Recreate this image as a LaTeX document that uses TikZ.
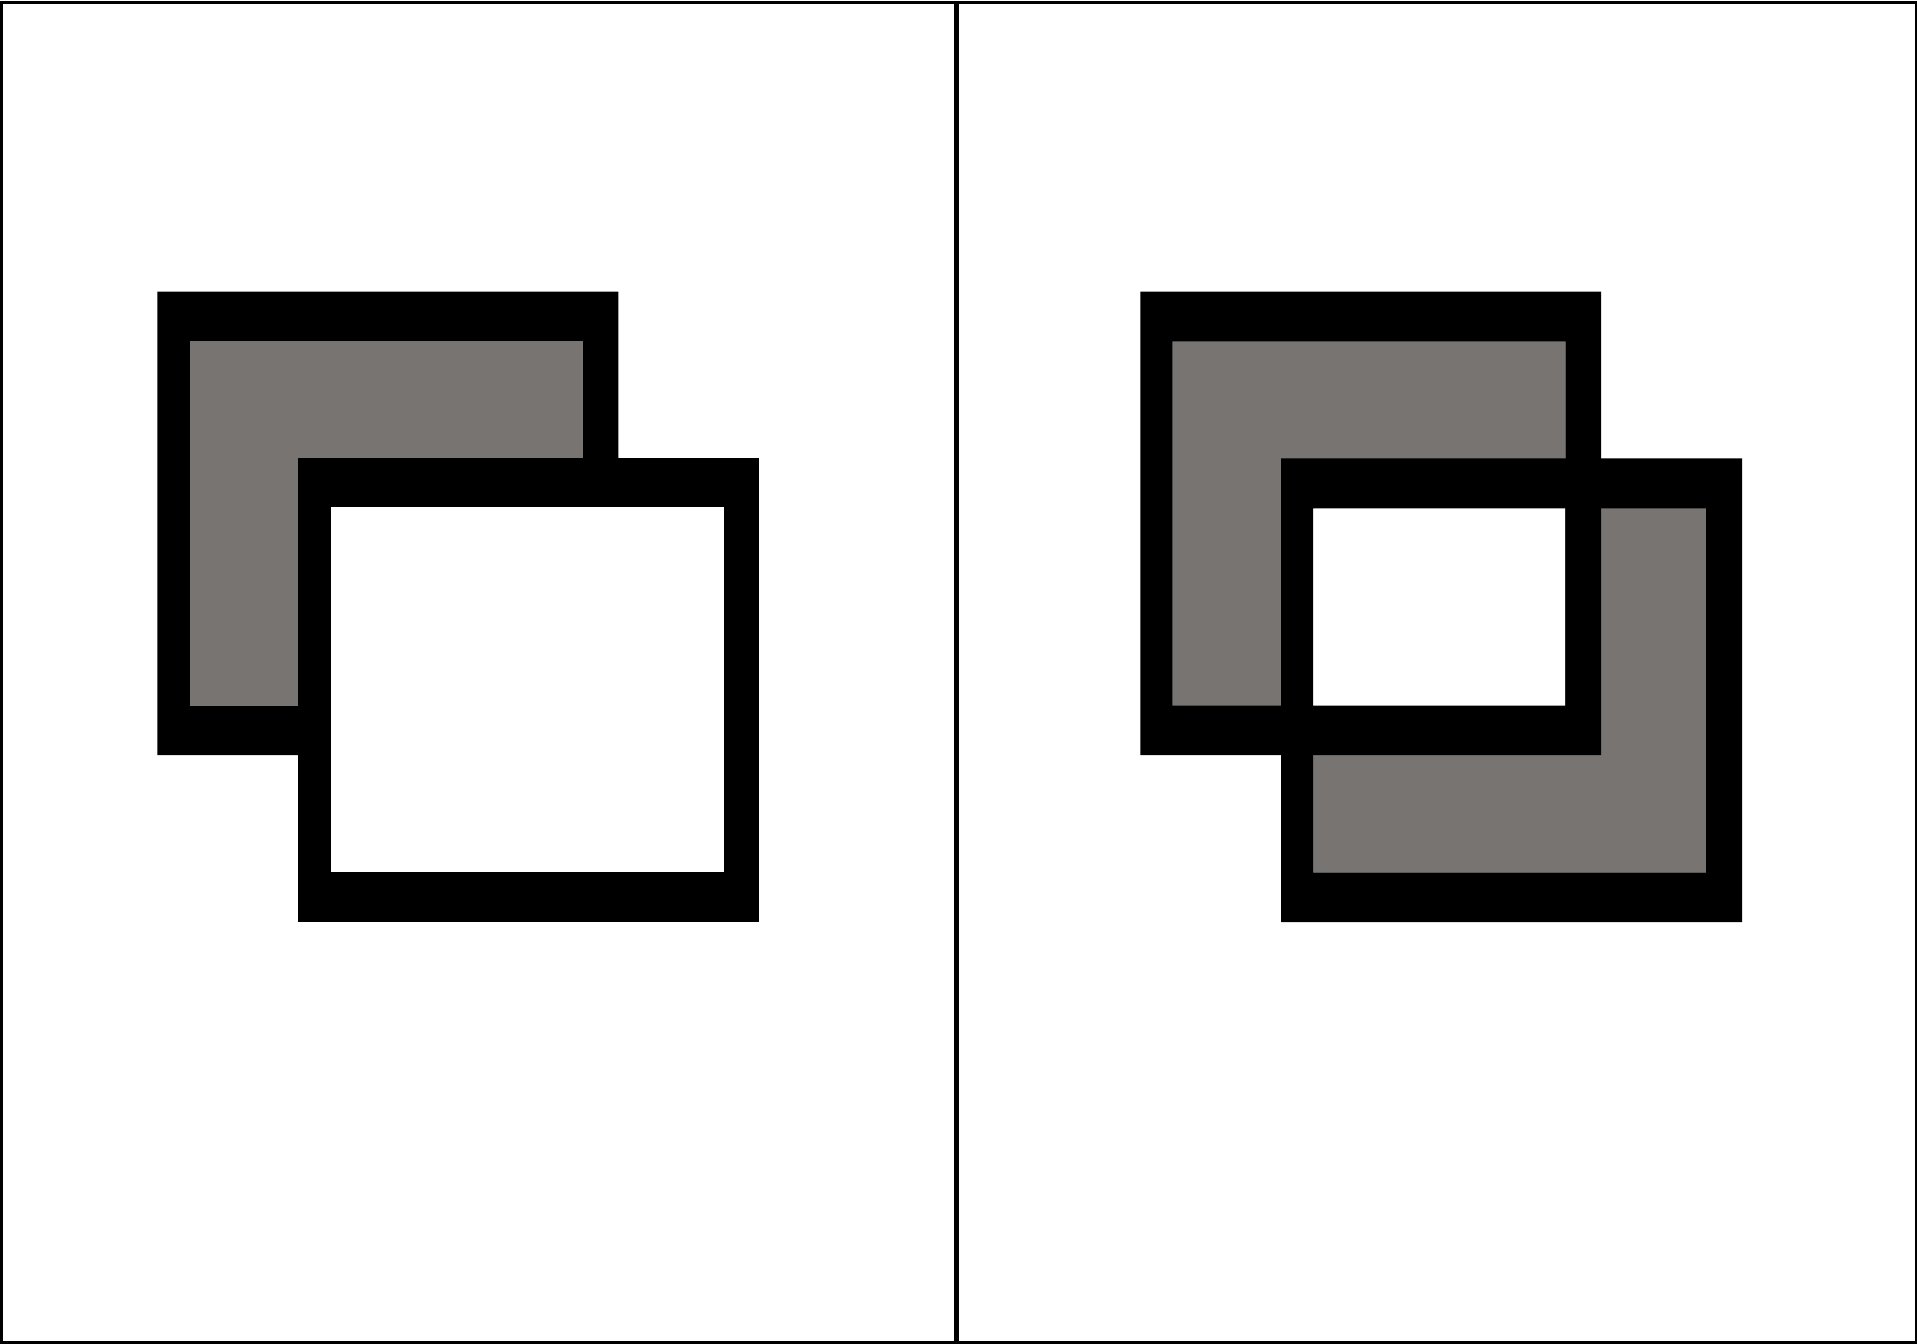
\documentclass[tikz,border=0pt]{standalone}
\definecolor{shade}{RGB}{120,116,114}
\tikzset{
  frame/.style={fill=black,even odd rule},
  core/.style={fill=shade},
  hole/.style={fill=white},
  border/.style={draw=black,line width=2.5pt},
  divider/.style={draw=black,line width=5pt}
}
\begin{document}
\begin{tikzpicture}[x=1pt,y=-1pt]
\useasboundingbox (0,0) rectangle (1917,1344);
\fill[white] (0,0) rectangle (1917,1344);
% outer border and divider
\draw[border] (1.25,2.3) rectangle (1915.75,1342.7);
\draw[divider] (956.5,2.3) -- (956.5,1342.7);
% ---- left panel ----
\fill[frame] (157.3,291.7) rectangle (618.3,755) (190,341.3) rectangle (582.7,705.7);
\fill[core] (190,341.3) rectangle (582.7,705.7);
\fill[black] (298.3,458.3) rectangle (759.3,921.7);
\fill[hole] (330.7,506.7) rectangle (723.7,872.3);
% ---- right panel ----
\fill[core] (1172.3,341.3) rectangle (1565.3,705.7);
\fill[core] (1313,508.3) rectangle (1706,872.3);
\fill[hole] (1313,508.3) rectangle (1565.3,705.7);
\fill[frame] (1140.3,291.7) rectangle (1601,755) (1172.3,341.3) rectangle (1565.3,705.7);
\fill[frame] (1281,458.3) rectangle (1742,922) (1313,508.3) rectangle (1706,872.3);
\end{tikzpicture}
\end{document}
